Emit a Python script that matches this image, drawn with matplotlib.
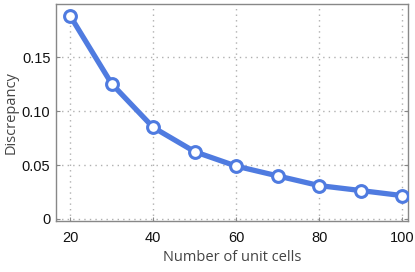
import matplotlib
matplotlib.use("Agg")
import matplotlib.pyplot as plt
from matplotlib.ticker import FixedLocator, FixedFormatter

cells = [20, 30, 40, 50, 60, 70, 80, 90, 100]
discrepancy = [0.1886, 0.1255, 0.0850, 0.0624, 0.0490, 0.0399, 0.0309, 0.0263, 0.0216]
xticks = [20, 40, 60, 80, 100]
yticks = [0, 0.05, 0.10, 0.15]
ytick_labels = ["0", "0.05", "0.10", "0.15"]

fig = plt.figure(figsize=(4.15, 2.72), dpi=100)
ax = fig.add_axes([0.135, 0.1875, 0.848, 0.7975])

color = "#4f7be0"
ax.plot(cells, discrepancy, color=color, lw=3.8, marker="o", ms=8.5,
        mfc="white", mec=color, mew=2.2, zorder=3, solid_capstyle="round")

ax.set_xlim(16.6, 101.4)
ax.set_ylim(-0.002, 0.1995)
ax.xaxis.set_major_locator(FixedLocator(xticks))
ax.yaxis.set_major_locator(FixedLocator(yticks))
ax.yaxis.set_major_formatter(FixedFormatter(ytick_labels))

ax.grid(True, color="#b0b0b0", linestyle=(0, (1, 3)), linewidth=1.0)
for s in ax.spines.values():
    s.set_color("#888888")
    s.set_linewidth(1.0)
ax.tick_params(direction="in", length=3, color="#888888", labelsize=10.5,
               labelcolor="#111111", top=False, right=True, pad=4)
ax.tick_params(axis="x", pad=7)
for lab in ax.get_xticklabels() + ax.get_yticklabels():
    lab.set_fontfamily("Liberation Sans")

ax.set_xlabel("Number of unit cells", fontfamily="Open Sans", fontsize=10.5,
              color="#444444", labelpad=4)
ax.set_ylabel("Discrepancy", fontfamily="Open Sans", fontsize=10.5,
              color="#444444", labelpad=2)

fig.savefig("out.png", dpi=100)
